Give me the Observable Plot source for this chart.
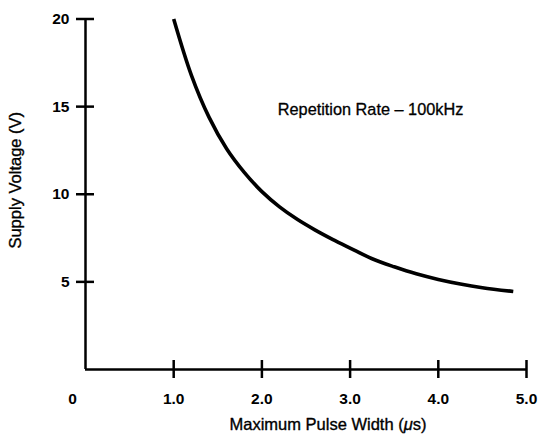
<!DOCTYPE html>
<html>
<head>
<meta charset="utf-8">
<script src="https://cdn.jsdelivr.net/npm/d3@7"></script>
<script src="https://cdn.jsdelivr.net/npm/@observablehq/plot@0.6"></script>
<style>
  html, body { margin: 0; padding: 0; background: #fff; }
  #chart svg { display: block; }
</style>
</head>
<body>
<div id="chart"></div>
<script>
// Curve: maximum pulse width (µs) vs supply voltage (V)
const pulseWidth = [1.0, 1.2, 1.4, 1.6, 1.8, 2.0, 2.2, 2.4, 2.6, 2.8, 3.0, 3.25, 3.5, 3.75, 4.0, 4.25, 4.5, 4.85];
const supplyVoltage = [20.0, 16.8, 14.4, 12.6, 11.25, 10.15, 9.28, 8.57, 7.97, 7.43, 6.93, 6.32, 5.86, 5.46, 5.14, 4.88, 4.67, 4.45];

const xTicks = [1, 2, 3, 4, 5];
const xTickLabels = ["1.0", "2.0", "3.0", "4.0", "5.0"];
const yTicks = [5, 10, 15, 20];
const yTickLabels = ["5", "10", "15", "20"];
const originLabel = ["0"];

const xTitle = "Maximum Pulse Width (μs)";
const yTitle = "Supply Voltage (V)";
const annotation = "Repetition Rate – 100kHz";

const curve = pulseWidth.map((x, i) => ({x, y: supplyVoltage[i]}));
const font = "'Liberation Sans', Arial, Helvetica, sans-serif";

const chart = Plot.plot({
  width: 540,
  height: 439,
  marginLeft: 85,
  marginRight: 14,
  marginTop: 18.5,
  marginBottom: 70,
  style: {fontFamily: font, color: "#000", background: "#fff"},
  x: {domain: [0, 5], axis: null},
  y: {domain: [0, 20], axis: null},
  marks: [
    // axis lines
    Plot.ruleX([0], {y1: 0, y2: 20, stroke: "#000", strokeWidth: 2.5}),
    Plot.ruleY([0], {x1: 0, x2: 5, stroke: "#000", strokeWidth: 2.5}),
    // crossing tick marks
    Plot.ruleY(yTicks, {x1: 0, x2: 0, insetLeft: -9, insetRight: -9, stroke: "#000", strokeWidth: 2.5}),
    Plot.ruleX(xTicks, {y1: 0, y2: 0, insetTop: -9, insetBottom: -9, stroke: "#000", strokeWidth: 2.5}),
    // tick labels
    Plot.text(yTicks, {x: 0, y: d => d, text: (d, i) => yTickLabels[i], textAnchor: "end", dx: -16, fontSize: 15.5, fontWeight: "bold", fill: "#000"}),
    Plot.text(xTicks, {x: d => d, y: 0, text: (d, i) => xTickLabels[i], dy: 30, fontSize: 15.5, fontWeight: "bold", fill: "#000"}),
    Plot.text(originLabel, {x: 0, y: 0, text: d => d, dx: -13, dy: 30, fontSize: 15.5, fontWeight: "bold", fill: "#000"}),
    // axis titles
    Plot.text([xTitle], {frameAnchor: "bottom", text: d => d, dx: 22, dy: 60, fontSize: 16.5, fill: "#000", stroke: "#000", strokeWidth: 0.35, className: "xtitle"}),
    Plot.text([yTitle], {x: () => 0, y: () => 10.8, text: d => d, rotate: -90, dx: -70, fontSize: 16.5, fill: "#000", stroke: "#000", strokeWidth: 0.35}),
    // annotation
    Plot.text([annotation], {x: () => 2.18, y: () => 14.8, text: d => d, textAnchor: "start", fontSize: 16.3, fill: "#000", stroke: "#000", strokeWidth: 0.3}),
    // the curve
    Plot.line(curve, {x: "x", y: "y", curve: "catmull-rom", stroke: "#000", strokeWidth: 3.6, strokeLinecap: "butt"})
  ]
});
document.getElementById("chart").appendChild(chart);

// italic μ as in the original typesetting
d3.select(chart).selectAll("text").each(function () {
  const t = this.textContent;
  if (t === xTitle) {
    const el = d3.select(this);
    el.text(null);
    el.append("tspan").text("Maximum Pulse Width (");
    el.append("tspan").attr("font-style", "italic").text("μ");
    el.append("tspan").text("s)");
  }
});
</script>
</body>
</html>
